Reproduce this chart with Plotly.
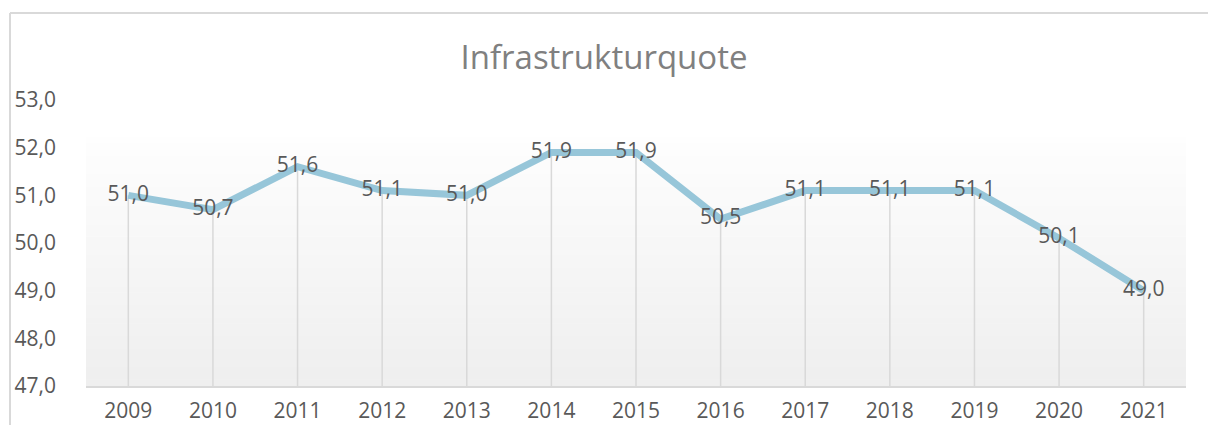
import plotly.graph_objects as go

YEARS = [2009, 2010, 2011, 2012, 2013, 2014, 2015, 2016, 2017, 2018, 2019, 2020, 2021]
QUOTE = [51.0, 50.7, 51.6, 51.1, 51.0, 51.9, 51.9, 50.5, 51.1, 51.1, 51.1, 50.1, 49.0]
Y_TICKS = [47, 48, 49, 50, 51, 52, 53]

LINE = "#97c6d9"
TEXT = "#595959"
GRID = "#d9d9d9"
FONT = "Open Sans, sans-serif"
Y_MIN, Y_MAX = 47, 53

W, H = 1208, 425
ML, MT, MR, MB = 86, 100, 22, 39
PW, PH = W - ML - MR, H - MT - MB

fig = go.Figure()

# gradient band behind the plot (white at top -> light gray at bottom)
steps = 40
top = 52.22
for i in range(steps):
    y0 = Y_MIN + (top - Y_MIN) * i / steps
    y1 = Y_MIN + (top - Y_MIN) * (i + 1) / steps
    t = i / (steps - 1)
    c = int(239 + (254 - 239) * t)
    fig.add_shape(type="rect", xref="x", yref="y", x0=YEARS[0] - 0.5, x1=YEARS[-1] + 0.5,
                  y0=y0, y1=y1 + 0.01, fillcolor=f"rgb({c},{c},{c})",
                  line=dict(width=0), layer="below")

# drop lines
dx, dy = [], []
for x, v in zip(YEARS, QUOTE):
    dx += [x, x, None]
    dy += [Y_MIN, v, None]
fig.add_trace(go.Scatter(x=dx, y=dy, mode="lines", line=dict(color=GRID, width=1.5),
                         hoverinfo="skip", showlegend=False))

fig.add_trace(go.Scatter(
    x=YEARS, y=QUOTE, mode="lines+text",
    line=dict(color=LINE, width=7),
    text=[f"{v:.1f}".replace(".", ",") for v in QUOTE],
    textposition="middle center",
    textfont=dict(color=TEXT, size=21, family=FONT),
    showlegend=False,
))

# frame lines (chart is cropped at left/top)
fx = (10 - ML) / PW
fy = 1 + (MT - 13) / PH
fig.add_shape(type="line", xref="paper", yref="paper", x0=fx, x1=fx, y0=-0.2, y1=fy,
              line=dict(color="#d9d9d9", width=2))
fig.add_shape(type="line", xref="paper", yref="paper", x0=fx, x1=1.05, y0=fy, y1=fy,
              line=dict(color="#d9d9d9", width=2))

fig.update_layout(
    width=W, height=H,
    paper_bgcolor="white", plot_bgcolor="white",
    font=dict(family=FONT, color=TEXT, size=21),
    margin=dict(t=MT, b=MB, l=ML, r=MR),
    title=dict(text="Infrastrukturquote", x=0.5, xanchor="center", y=1 - 57 / H,
               yanchor="middle", font=dict(size=33, color="#808080", family=FONT)),
    xaxis=dict(range=[YEARS[0] - 0.5, YEARS[-1] + 0.5], tickvals=YEARS,
               ticktext=[str(y) for y in YEARS], showgrid=False, zeroline=False,
               showline=True, linecolor=GRID, linewidth=2, ticks="", automargin=False,
               ticklabelstandoff=5, tickfont=dict(size=21, color=TEXT)),
    yaxis=dict(range=[Y_MIN, Y_MAX], tickvals=Y_TICKS,
               ticktext=[f"{v:.1f}".replace(".", ",") for v in Y_TICKS],
               showgrid=False, zeroline=False, showline=False, ticks="", automargin=False,
               ticklabelstandoff=29, tickfont=dict(size=21, color=TEXT)),
)

# drop the default 8px body margin so the figure fills the window exactly
fig.write_html("out.html", config={"displayModeBar": False},
               post_script="document.body.style.margin='0';")
